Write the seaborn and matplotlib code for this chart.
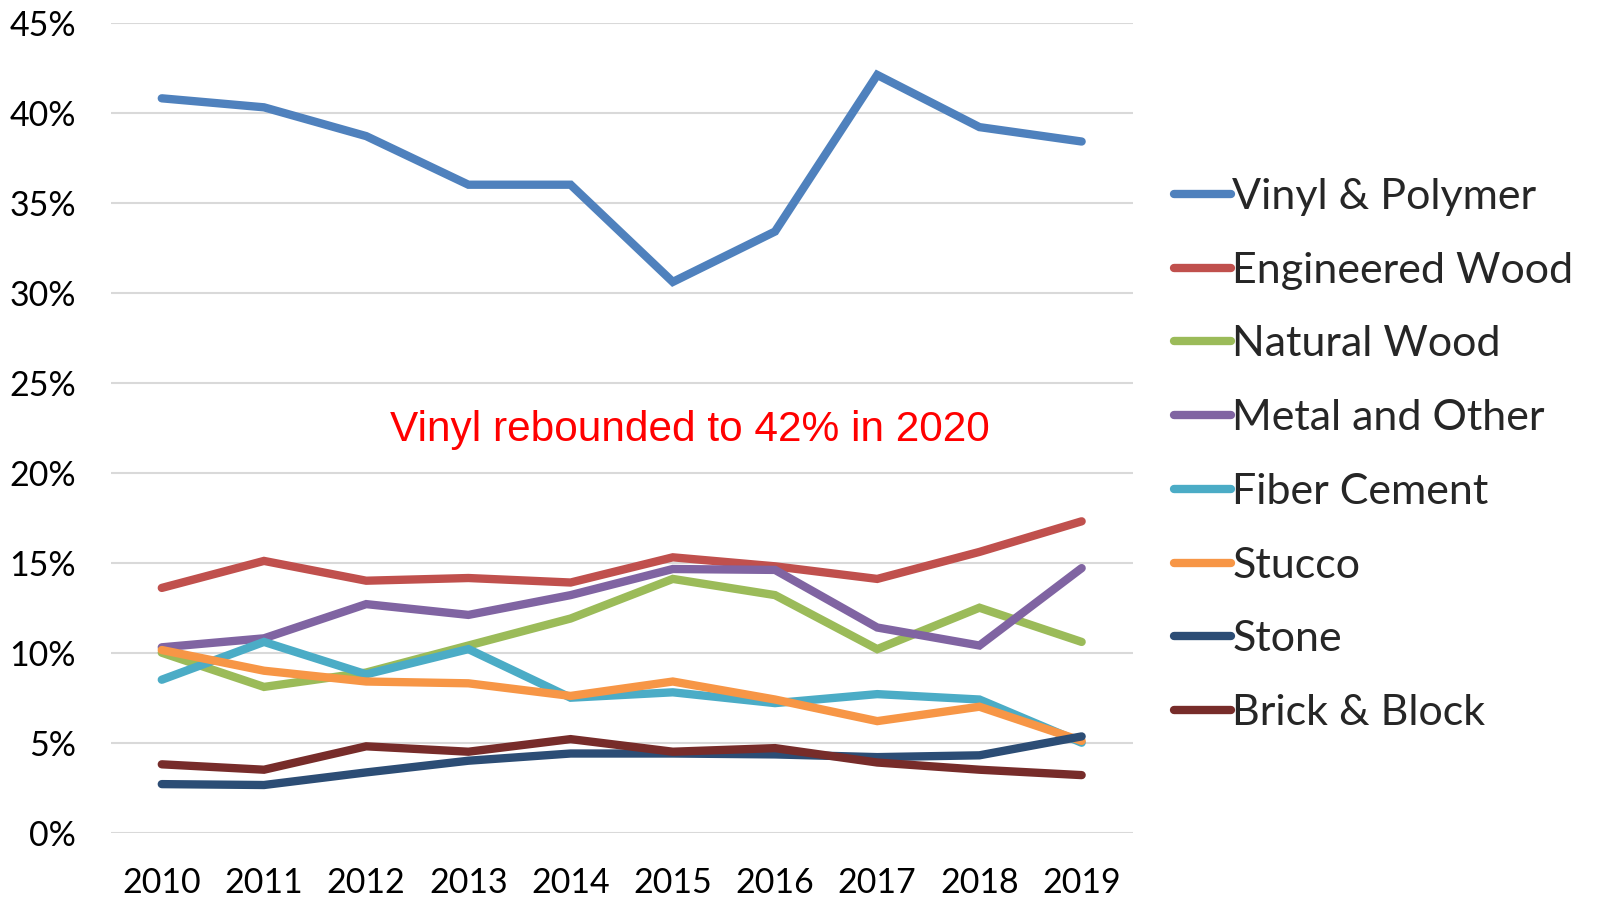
import numpy as np
import pandas as pd
import matplotlib
matplotlib.use('Agg')
import matplotlib.pyplot as plt
import seaborn as sns

# ── Data (share of new homes by siding material) ─────────────────────────────
years = ['2010', '2011', '2012', '2013', '2014', '2015', '2016', '2017', '2018', '2019']

vinyl      = [40.8, 40.3, 38.7, 36.0, 36.0, 30.6, 33.4, 42.1, 39.2, 38.4]
eng_wood   = [13.6, 15.1, 14.0, 14.15, 13.9, 15.3, 14.8, 14.1, 15.6, 17.3]
nat_wood   = [10.0, 8.1, 8.9, 10.4, 11.9, 14.1, 13.2, 10.2, 12.5, 10.6]
metal      = [10.3, 10.8, 12.7, 12.1, 13.2, 14.65, 14.6, 11.4, 10.4, 14.7]
fiber      = [8.5, 10.6, 8.8, 10.2, 7.5, 7.8, 7.2, 7.7, 7.4, 5.0]
stucco     = [10.15, 9.0, 8.4, 8.3, 7.6, 8.4, 7.4, 6.2, 7.0, 5.1]
stone      = [2.7, 2.65, 3.35, 4.0, 4.4, 4.4, 4.35, 4.2, 4.3, 5.35]
brick      = [3.8, 3.5, 4.8, 4.5, 5.2, 4.5, 4.7, 3.9, 3.5, 3.2]

series_names = ['Vinyl & Polymer', 'Engineered Wood', 'Natural Wood', 'Metal and Other',
                'Fiber Cement', 'Stucco', 'Stone', 'Brick & Block']
series_vals = [vinyl, eng_wood, nat_wood, metal, fiber, stucco, stone, brick]
colors = ['#4F81BD', '#C0504D', '#9BBB59', '#8064A2',
          '#4BACC6', '#F79646', '#2C4D75', '#772C2A']

y_ticks = [0, 5, 10, 15, 20, 25, 30, 35, 40, 45]
note = 'Vinyl rebounded to 42% in 2020'

# ── Long-form table ──────────────────────────────────────────────────────────
df = pd.DataFrame({
    'year': np.tile(years, len(series_names)),
    'share': np.concatenate(series_vals),
    'material': np.repeat(series_names, len(years)),
})

# ── Plot ─────────────────────────────────────────────────────────────────────
sns.set_style('white')
plt.rcParams['font.family'] = ['Lato', 'DejaVu Sans']

fig = plt.figure(figsize=(15.97, 8.98), dpi=100)
ax = fig.add_axes([0.0693, 0.0727, 0.640, 0.902])

sns.lineplot(data=df, x='year', y='share', hue='material',
             hue_order=series_names, palette=colors, linewidth=6,
             sort=False, ax=ax)
for ln in ax.get_lines():
    ln.set_solid_capstyle('round')
    ln.set_solid_joinstyle('miter')

ax.set_xlim(-0.5, len(years) - 0.5)
ax.set_ylim(0, 45)
ax.set_yticks(y_ticks)
ax.set_yticklabels([f'{t}%' for t in y_ticks])
ax.grid(axis='y', color='#D9D9D9', linewidth=1.5)
ax.grid(axis='x', visible=False)
ax.set_axisbelow(True)
for s in ax.spines.values():
    s.set_visible(False)
ax.tick_params(axis='both', length=0, labelsize=24.5, labelcolor='black')
ax.tick_params(axis='y', pad=25)
ax.tick_params(axis='x', pad=25)
ax.set_xlabel('')
ax.set_ylabel('')

ax.text(5.17, 22.4, note, color='#FF0000', fontsize=30.5,
        family=['Liberation Sans', 'DejaVu Sans'], ha='center', va='center')

handles, labels = ax.get_legend_handles_labels()
for h in handles:
    h.set_solid_capstyle('round')
ax.legend(handles, labels, loc='center left', bbox_to_anchor=(0.735, 0.4933),
          bbox_transform=fig.transFigure, frameon=False, fontsize=31,
          handlelength=1.33, handletextpad=0.03, labelspacing=0.83,
          borderaxespad=0, borderpad=0)

fig.savefig('out.png', dpi=100)
